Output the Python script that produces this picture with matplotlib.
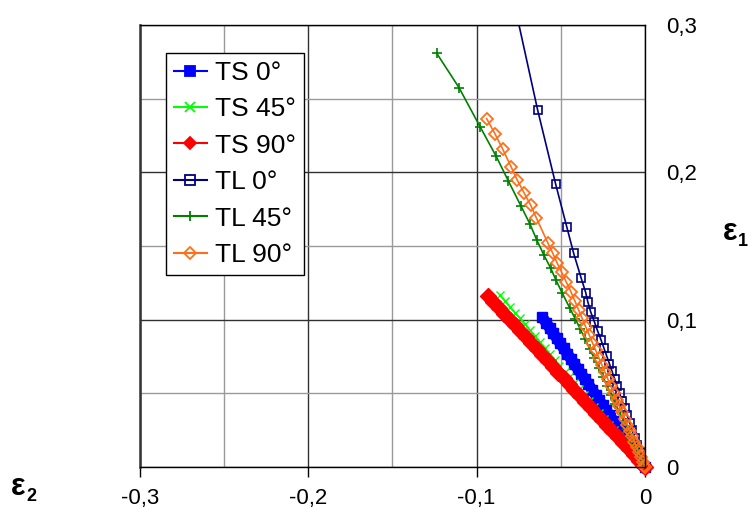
import matplotlib
matplotlib.use("Agg")
import matplotlib.pyplot as plt
from matplotlib.lines import Line2D
from matplotlib.ticker import MultipleLocator, FuncFormatter

plt.rcParams['font.family'] = ['Liberation Sans', 'DejaVu Sans']

# TS series (dense points)
ts0_x = [-0.0609, -0.0588, -0.0567, -0.0546, -0.0525, -0.0504, -0.0483, -0.0462, -0.0441, -0.0420,
         -0.0399, -0.0378, -0.0357, -0.0336, -0.0315, -0.0294, -0.0273, -0.0252, -0.0231, -0.0210,
         -0.0189, -0.0168, -0.0147, -0.0126, -0.0105, -0.0084, -0.0063, -0.0042, -0.0021, 0.0]
ts0_y = [0.1015, 0.0980, 0.0945, 0.0910, 0.0875, 0.0840, 0.0805, 0.0770, 0.0735, 0.0700,
         0.0665, 0.0630, 0.0595, 0.0560, 0.0525, 0.0490, 0.0455, 0.0420, 0.0385, 0.0350,
         0.0315, 0.0280, 0.0245, 0.0210, 0.0175, 0.0140, 0.0105, 0.0070, 0.0035, 0.0]

ts45_x = [-0.0862, -0.0832, -0.0803, -0.0773, -0.0744, -0.0714, -0.0685, -0.0655, -0.0626, -0.0596,
          -0.0567, -0.0537, -0.0508, -0.0478, -0.0449, -0.0419, -0.0390, -0.0360, -0.0331, -0.0301,
          -0.0272, -0.0242, -0.0213, -0.0183, -0.0154, -0.0124, -0.0094, -0.0065, -0.0035, -0.0012, 0.0]
ts45_y = [0.1168, 0.1128, 0.1088, 0.1048, 0.1008, 0.0968, 0.0928, 0.0888, 0.0848, 0.0808,
          0.0768, 0.0728, 0.0688, 0.0648, 0.0608, 0.0568, 0.0528, 0.0488, 0.0448, 0.0408,
          0.0368, 0.0328, 0.0288, 0.0248, 0.0208, 0.0168, 0.0128, 0.0088, 0.0048, 0.0016, 0.0]

ts90_x = [-0.0933, -0.0901, -0.0869, -0.0837, -0.0804, -0.0772, -0.0740, -0.0708, -0.0676, -0.0644,
          -0.0612, -0.0579, -0.0547, -0.0515, -0.0483, -0.0451, -0.0419, -0.0387, -0.0354, -0.0322,
          -0.0290, -0.0258, -0.0226, -0.0194, -0.0162, -0.0129, -0.0097, -0.0065, -0.0033, -0.0009, 0.0]
ts90_y = [0.1161, 0.1121, 0.1081, 0.1041, 0.1001, 0.0961, 0.0921, 0.0881, 0.0841, 0.0801,
          0.0761, 0.0721, 0.0681, 0.0641, 0.0601, 0.0561, 0.0521, 0.0481, 0.0441, 0.0401,
          0.0361, 0.0321, 0.0281, 0.0241, 0.0201, 0.0161, 0.0121, 0.0081, 0.0041, 0.0011, 0.0]

# TL series
tl0_x = [-0.0835, -0.0638, -0.0531, -0.0465, -0.0424, -0.0380, -0.0352, -0.0340, -0.0323, -0.0301,
         -0.0282, -0.0262, -0.0245, -0.0228, -0.0211, -0.0196, -0.0181, -0.0166, -0.0151, -0.0136,
         -0.0121, -0.0106, -0.0091, -0.0076, -0.0061, -0.0046, -0.0031, -0.0016, 0.0]
tl0_y = [0.345, 0.2424, 0.1921, 0.1631, 0.1451, 0.1285, 0.1183, 0.1122, 0.1054, 0.0986,
         0.0925, 0.0865, 0.0810, 0.0755, 0.0700, 0.0650, 0.0600, 0.0550, 0.0500, 0.0450,
         0.0400, 0.0350, 0.0300, 0.0250, 0.0200, 0.0150, 0.0100, 0.0050, 0.0]

tl45_x = [-0.1238, -0.1105, -0.0980, -0.0885, -0.0812, -0.0738, -0.0683, -0.0643, -0.0600, -0.0560,
          -0.0529, -0.0491, -0.0446, -0.0414, -0.0384, -0.0356, -0.0328, -0.0302, -0.0276, -0.0250,
          -0.0225, -0.0200, -0.0176, -0.0151, -0.0127, -0.0104, -0.0082, -0.0060, -0.0040, -0.0020, 0.0]
tl45_y = [0.2809, 0.2575, 0.2310, 0.2111, 0.1942, 0.1774, 0.1648, 0.1541, 0.1437, 0.1349,
          0.1269, 0.1179, 0.1077, 0.1005, 0.0935, 0.0868, 0.0802, 0.0738, 0.0675, 0.0612,
          0.0550, 0.0490, 0.0430, 0.0370, 0.0312, 0.0255, 0.0200, 0.0148, 0.0098, 0.0050, 0.0]

tl90_x = [-0.0941, -0.0891, -0.0846, -0.0796, -0.0759, -0.0719, -0.0679, -0.0646, -0.0578, -0.0548,
          -0.0523, -0.0495, -0.0469, -0.0440, -0.0417, -0.0395, -0.0374, -0.0353, -0.0332, -0.0313,
          -0.0293, -0.0275, -0.0256, -0.0238, -0.0220, -0.0203, -0.0186, -0.0169, -0.0153, -0.0137,
          -0.0121, -0.0106, -0.0091, -0.0077, -0.0063, -0.0050, -0.0037, -0.0024, -0.0013, -0.0004, 0.0]
tl90_y = [0.2365, 0.2261, 0.2159, 0.2039, 0.1948, 0.1862, 0.1777, 0.1692, 0.1523, 0.1451,
          0.1387, 0.1322, 0.1258, 0.1190, 0.1128, 0.1068, 0.1010, 0.0953, 0.0898, 0.0845,
          0.0793, 0.0742, 0.0692, 0.0643, 0.0595, 0.0548, 0.0502, 0.0457, 0.0413, 0.0370,
          0.0328, 0.0287, 0.0247, 0.0208, 0.0170, 0.0134, 0.0099, 0.0066, 0.0035, 0.0010, 0.0]

labels = ['TS 0°', 'TS 45°', 'TS 90°', 'TL 0°', 'TL 45°', 'TL 90°']
colors = ['#0000ff', '#00ff00', '#ff0000', '#000080', '#008000', '#ff6f1a']

fig = plt.figure(figsize=(7.48, 5.12), dpi=100)
ax = fig.add_axes([140/748, 1-467/512, 505/748, 442/512])

# the TS markers sit so close together they merge into solid bands
ax.plot(ts0_x, ts0_y, color=colors[0], lw=8, solid_capstyle='butt', marker='s', ms=6.5,
        mec=colors[0], mfc=colors[0], clip_on=False)
ax.plot(ts45_x, ts45_y, color=colors[1], lw=1, marker='x', ms=6, mew=1, clip_on=False)
ax.plot(ts90_x, ts90_y, color=colors[2], lw=8.5, solid_capstyle='butt', marker='D', ms=8,
        mec=colors[2], mfc=colors[2], clip_on=False)
ax.plot(tl0_x, tl0_y, color=colors[3], lw=1.2, marker='s', ms=6, mfc='none', mew=1.2)
ax.plot(tl45_x, tl45_y, color=colors[4], lw=1.2, marker='+', ms=7, mew=1.2)
ax.plot(tl90_x, tl90_y, color=colors[5], lw=1.2, marker='D', ms=6.3, mfc='none', mew=1.3, clip_on=False)

ax.set_xlim(-0.3, 0)
ax.set_ylim(0, 0.3)
ax.xaxis.set_major_locator(MultipleLocator(0.1))
ax.xaxis.set_minor_locator(MultipleLocator(0.05))
ax.yaxis.set_major_locator(MultipleLocator(0.1))
ax.yaxis.set_minor_locator(MultipleLocator(0.05))

def comma(v, pos):
    if abs(v) < 1e-9:
        return '0'
    return ('%.1f' % v).replace('.', ',')

ax.xaxis.set_major_formatter(FuncFormatter(comma))
ax.yaxis.set_major_formatter(FuncFormatter(comma))
ax.yaxis.tick_right()
ax.tick_params(axis='x', which='major', length=7, width=1, pad=8, labelsize=16, direction='out')
ax.tick_params(axis='y', which='major', length=0, pad=15, labelsize=16)
ax.tick_params(which='minor', length=0)

ax.grid(which='major', color='#303030', lw=1)
ax.grid(which='minor', color='#9a9a9a', lw=1)
ax.set_axisbelow(True)
for s in ax.spines.values():
    s.set_color('black')
    s.set_linewidth(1)
ax.spines['left'].set_color('#333333')
ax.spines['left'].set_linewidth(1.8)

markers = ['s', 'x', 'D', 's', '+', 'D']
fills = [colors[0], colors[1], colors[2], 'none', colors[4], 'none']
handles = [Line2D([], [], color=c, marker=m, ms=7 if m != 'D' else 6, mfc=f, mew=1.3, lw=1.5)
           for c, m, f in zip(colors, markers, fills)]
leg = ax.legend(handles, labels, loc='upper left', bbox_to_anchor=(26/505, 414/442),
                borderaxespad=0, fontsize=19, frameon=True, fancybox=False,
                edgecolor='black', framealpha=1, handlelength=1.25, handletextpad=0.3,
                labelspacing=0.47, borderpad=0.3)
leg.get_frame().set_linewidth(1)

# axis labels (epsilon with subscripts)
fig.text(11/748, 1-495/512, 'ε', fontsize=22, fontweight='bold', va='baseline', ha='left')
fig.text(26/748, 1-501/512, '2', fontsize=13, fontweight='bold', va='baseline', ha='left')
fig.text(723/748, 1-240/512, 'ε', fontsize=22, fontweight='bold', va='baseline', ha='left')
fig.text(738/748, 1-246/512, '1', fontsize=13, fontweight='bold', va='baseline', ha='left')

fig.savefig('out.png', dpi=100)
